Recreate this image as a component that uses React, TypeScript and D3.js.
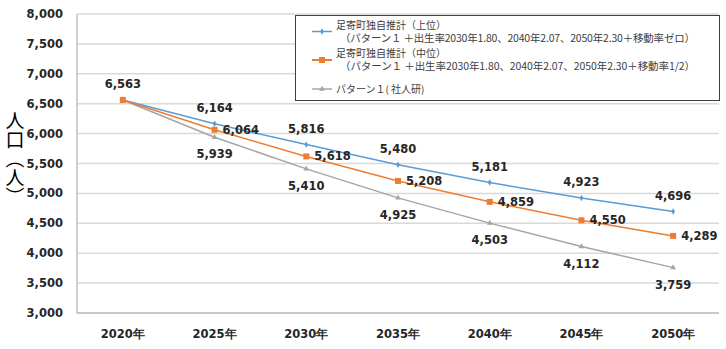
import React from "react";
import * as d3 from "d3";

const years = ["2020年", "2025年", "2030年", "2035年", "2040年", "2045年", "2050年"];
const upper = [6563, 6164, 5816, 5480, 5181, 4923, 4696];
const middle = [6563, 6064, 5618, 5208, 4859, 4550, 4289];
const pattern1 = [6563, 5939, 5410, 4925, 4503, 4112, 3759];
const yTicks = [3000, 3500, 4000, 4500, 5000, 5500, 6000, 6500, 7000, 7500, 8000];
const legendTexts = [
  ["足寄町独自推計（上位）", "（パターン１ ＋出生率2030年1.80、2040年2.07、2050年2.30＋移動率ゼロ）"],
  ["足寄町独自推計（中位）", "（パターン１ ＋出生率2030年1.80、2040年2.07、2050年2.30＋移動率1/2）"],
  ["パターン１( 社人研)"],
];
const yTitle = "人口（人）";

const W = 726, H = 349;
const BLUE = "#5B9BD5", ORANGE = "#ED7D31", GRAY = "#A5A5A5";

export default function App() {
  const x = d3.scaleBand<string>().domain(years).range([77, 719]);
  const y = d3.scaleLinear().domain([3000, 8000]).range([313, 14]);
  const cx = (i: number) => (x(years[i]) as number) + x.bandwidth() / 2;
  const line = d3.line<number>().x((_, i) => cx(i)).y((v) => y(v));
  const fmt = d3.format(",");
  const numFont = "'DejaVu Sans', Verdana, sans-serif";
  const jp = "'Noto Sans CJK JP', sans-serif";

  const tri = d3.symbol().type(d3.symbolTriangle).size(14)() as string;
  const dia = d3.symbol().type(d3.symbolDiamond).size(12)() as string;

  return (
    <svg width={W} height={H} style={{ position: "absolute", left: 0, top: 0, background: "#fff" }}>
      <rect x={0} y={0} width={W} height={H} fill="#fff" />
      {yTicks.map((t) => (
        <g key={t}>
          <line x1={77} x2={719} y1={y(t)} y2={y(t)} stroke="#D9D9D9" strokeWidth={1.5} />
          <text x={63} y={y(t)} dy="0.35em" textAnchor="end" fontFamily={numFont} fontWeight="bold" fontSize={11.5} fill="#262626">
            {fmt(t)}
          </text>
        </g>
      ))}
      <line x1={77} x2={77} y1={14} y2={313} stroke="#BFBFBF" strokeWidth={1.5} />
      <line x1={77} x2={719} y1={313} y2={313} stroke="#BFBFBF" strokeWidth={1.5} />
      {years.map((yr, i) => (
        <text key={yr} x={cx(i)} y={334} dy="0.35em" textAnchor="middle" fontFamily={numFont} fontWeight="bold" fontSize={11.5} fill="#262626">
          {yr}
        </text>
      ))}
      <text x={15} y={111} fontFamily={jp} fontSize={19} fill="#000" style={{ writingMode: "vertical-rl" } as any}>
        {yTitle}
      </text>

      {/* series lines */}
      <path d={line(upper) as string} fill="none" stroke={BLUE} strokeWidth={1.5} />
      <path d={line(pattern1) as string} fill="none" stroke={GRAY} strokeWidth={1.5} />
      <path d={line(middle) as string} fill="none" stroke={ORANGE} strokeWidth={1.5} />
      {upper.map((v, i) => (
        <path key={"bm" + i} d={dia} transform={`translate(${cx(i)},${y(v)})`} fill={BLUE} />
      ))}
      {pattern1.map((v, i) => (
        <path key={"gm" + i} d={tri} transform={`translate(${cx(i)},${y(v)})`} fill={GRAY} />
      ))}
      {middle.map((v, i) => (
        <rect key={"om" + i} x={cx(i) - 3} y={y(v) - 3} width={6} height={6} fill={ORANGE} />
      ))}

      {/* labels */}
      {upper.map((v, i) => (
        <text key={"bl" + i} x={cx(i)} y={y(v) - 16} dy="0.35em" textAnchor="middle" fontFamily={numFont} fontWeight="bold" fontSize={11.5} fill="#262626">
          {fmt(v)}
        </text>
      ))}
      {middle.map((v, i) =>
        i === 0 ? null : (
          <text key={"ol" + i} x={cx(i) + 8} y={y(v)} dy="0.35em" textAnchor="start" fontFamily={numFont} fontWeight="bold" fontSize={11.5} fill="#262626">
            {fmt(v)}
          </text>
        )
      )}
      {pattern1.map((v, i) =>
        i === 0 ? null : (
          <text key={"gl" + i} x={cx(i)} y={y(v) + 17} dy="0.35em" textAnchor="middle" fontFamily={numFont} fontWeight="bold" fontSize={11.5} fill="#262626">
            {fmt(v)}
          </text>
        )
      )}

      {/* legend */}
      <rect x={295.5} y={15.5} width={424} height={85} fill="#fff" stroke="#404040" strokeWidth={1} />
      {[BLUE, ORANGE, GRAY].map((c, k) => {
        const my = [31.5, 60, 89][k];
        const ty = [[25, 38], [53, 66], [89]][k];
        return (
          <g key={"lg" + k}>
            <line x1={312} x2={332} y1={my} y2={my} stroke={c} strokeWidth={k === 1 ? 2 : 1.5} />
            {k === 0 && <path d={dia} transform={`translate(322,${my})`} fill={c} />}
            {k === 1 && <rect x={319} y={my - 3} width={6} height={6} fill={c} />}
            {k === 2 && <path d={tri} transform={`translate(322,${my})`} fill={c} />}
            {legendTexts[k].map((t, j) => (
              <text
                key={j}
                x={j === 0 ? 336 : 340}
                y={ty[j]}
                dy="0.35em"
                fontFamily={jp}
                fontSize={j === 1 ? 10.5 : 10}
                fill="#404040"
                {...(j === 1 ? { textLength: 355, lengthAdjust: "spacing" } : {})}
              >
                {t}
              </text>
            ))}
          </g>
        );
      })}
    </svg>
  );
}
